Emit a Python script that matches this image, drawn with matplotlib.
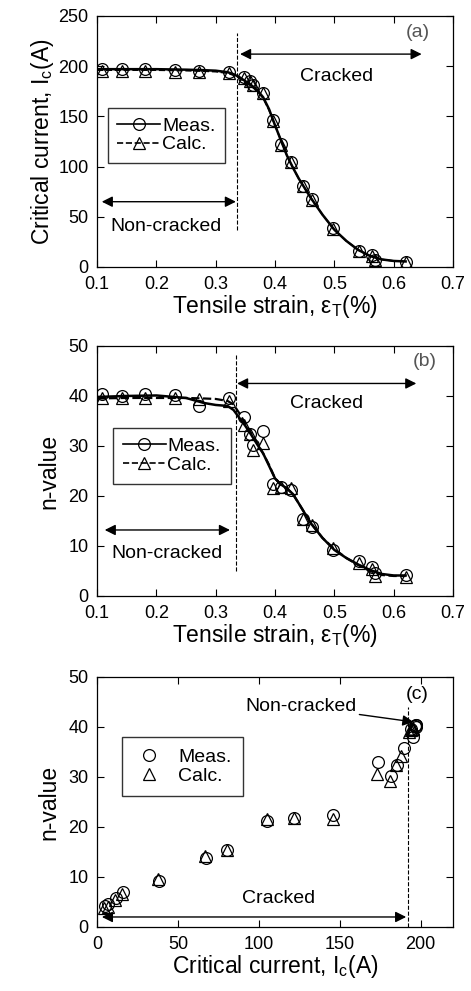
"""
Critical current and n-value versus tensile strain, three stacked panels.
"""
import matplotlib
matplotlib.use('Agg')
from matplotlib import pyplot as plt

plt.rcParams['font.family'] = ['Liberation Sans', 'DejaVu Sans']
plt.rcParams['mathtext.fontset'] = 'custom'
plt.rcParams['mathtext.rm'] = 'Liberation Sans'
plt.rcParams['mathtext.it'] = 'Liberation Sans'

# measured / calculated points (same strains)
strain = [0.108, 0.142, 0.181, 0.232, 0.271, 0.323, 0.347, 0.358, 0.362, 0.379,
          0.397, 0.410, 0.427, 0.447, 0.462, 0.498, 0.542, 0.564, 0.568, 0.620]
ic_meas = [197, 197, 197, 196.5, 195.5, 194, 189.5, 185.5, 181.5, 173.5,
           146, 122, 105, 80.5, 67.5, 38.5, 16, 11.5, 7, 5]
ic_calc = [195.5, 195.5, 195.5, 194.5, 194, 193, 188, 185, 181, 173,
           145.5, 121.5, 105, 80.5, 66.5, 37.5, 15.5, 11, 6.5, 4.5]
n_meas = [40.3, 40.0, 40.4, 40.2, 38.0, 39.5, 35.8, 32.3, 30.1, 33.0,
          22.3, 21.8, 21.2, 15.3, 13.7, 9.1, 7.0, 5.7, 4.5, 4.2]
n_calc = [39.5, 39.5, 39.5, 39.5, 39.3, 39.0, 34.1, 32.3, 29.1, 30.5,
          21.5, 21.8, 21.5, 15.3, 14.1, 9.5, 6.6, 5.3, 4.0, 3.8]

# fitted curves
curve_strain = [0.10, 0.15, 0.20, 0.25, 0.28, 0.30, 0.32, 0.33, 0.34, 0.35,
                0.36, 0.37, 0.38, 0.39, 0.40, 0.41, 0.42, 0.43, 0.44, 0.46,
                0.48, 0.50, 0.52, 0.54, 0.56, 0.58, 0.60, 0.62]
curve_ic_meas = [197, 197, 197, 196.5, 196, 195.5, 194, 192, 189, 185,
                 181, 176, 169, 157, 141, 126, 111, 99, 88, 69,
                 52, 37, 26, 17, 11, 7.5, 6, 5.5]
curve_ic_calc = [196, 196, 196, 195.5, 195, 194.5, 193, 191, 188, 184,
                 180, 175, 168, 156, 141, 126, 111, 99, 88, 69,
                 52, 37, 26, 17, 11, 7.5, 6, 5.5]
curve_n_meas = [39.8, 40.0, 40.1, 39.6, 38.6, 38.2, 38.0, 37.2, 35.6, 34.0,
                32.2, 30.3, 28.5, 26.0, 23.5, 22.3, 21.5, 20.4, 18.5, 14.6,
                11.6, 9.2, 7.6, 6.3, 5.2, 4.4, 4.1, 4.1]
curve_n_calc = [39.5, 39.6, 39.6, 39.6, 39.5, 39.4, 39.0, 38.3, 36.5, 34.5,
                32.5, 30.5, 28.5, 26.2, 23.5, 22.2, 21.5, 20.4, 18.5, 14.6,
                11.6, 9.4, 7.6, 6.2, 5.0, 4.2, 4.0, 4.0]

FS_TICK = 13
FS_TXT = 14
FS_LAB = 16.5
MS = 8.5

fig = plt.figure(figsize=(4.71, 9.91), dpi=100)
ax_a = fig.add_axes([0.206, 0.7306, 0.756, 0.2533])
ax_b = fig.add_axes([0.206, 0.3986, 0.756, 0.2523])
ax_c = fig.add_axes([0.206, 0.0646, 0.756, 0.2523])


def style(ax):
    ax.tick_params(direction='in', top=True, right=True, labelsize=FS_TICK,
                   length=5, width=0.8)
    ax.tick_params(axis='x', pad=6.5)
    ax.tick_params(axis='y', pad=6)
    for s in ax.spines.values():
        s.set_linewidth(0.9)


def arrow(ax, x0, x1, y):
    ax.annotate('', xy=(x0, y), xytext=(x1, y),
                arrowprops=dict(arrowstyle='<|-|>', color='black', lw=1.0,
                                mutation_scale=16, shrinkA=0, shrinkB=0))


leg_kw = dict(loc='upper left', fontsize=FS_TXT, frameon=True, fancybox=False,
              edgecolor='black', borderaxespad=0, labelspacing=0.05)

# (a)
ax = ax_a
ax.plot(curve_strain, curve_ic_meas, '-', color='black', lw=1.8)
ax.plot(curve_strain, curve_ic_calc, '--', color='black', lw=1.2)
ax.plot(strain, ic_meas, 'o', mfc='none', mec='black', ms=MS, mew=0.9)
ax.plot(strain, ic_calc, '^', mfc='none', mec='black', ms=MS, mew=0.9)
ax.plot([], [], '-o', color='black', mfc='none', ms=MS, mew=0.9, lw=1.2, label='Meas.')
ax.plot([], [], '--^', color='black', mfc='none', ms=MS, mew=0.9, lw=1.2, label='Calc.')
ax.plot([0.336, 0.336], [37, 233], '--', color='black', lw=0.8)
arrow(ax, 0.341, 0.647, 212)
arrow(ax, 0.108, 0.334, 65)
ax.text(0.503, 190, 'Cracked', ha='center', va='center', fontsize=FS_TXT)
ax.text(0.216, 40, 'Non-cracked', ha='center', va='center', fontsize=FS_TXT)
ax.text(0.641, 234, '(a)', ha='center', va='center', fontsize=FS_TXT, color='#555555')
ax.set_xlim(0.1, 0.7)
ax.set_ylim(0, 250)
ax.set_xticks([0.1, 0.2, 0.3, 0.4, 0.5, 0.6, 0.7])
ax.set_yticks([0, 50, 100, 150, 200, 250])
ax.set_xlabel('Tensile strain, ε$_\\mathregular{T}$(%)', fontsize=FS_LAB, labelpad=0)
ax.set_ylabel('Critical current, I$_\\mathregular{c}$(A)', fontsize=FS_LAB, labelpad=2)
ax.legend(bbox_to_anchor=(0.03, 0.635), handlelength=2.2, handletextpad=0.1,
          borderpad=0.5, **leg_kw)
style(ax)

# (b)
ax = ax_b
ax.plot(curve_strain, curve_n_meas, '-', color='black', lw=1.8)
ax.plot(curve_strain, curve_n_calc, '--', color='black', lw=1.6)
ax.plot(strain, n_meas, 'o', mfc='none', mec='black', ms=MS, mew=0.9)
ax.plot(strain, n_calc, '^', mfc='none', mec='black', ms=MS, mew=0.9)
ax.plot([], [], '-o', color='black', mfc='none', ms=MS, mew=0.9, lw=1.2, label='Meas.')
ax.plot([], [], '--^', color='black', mfc='none', ms=MS, mew=0.9, lw=1.2, label='Calc.')
ax.plot([0.334, 0.334], [4.9, 48.2], '--', color='black', lw=0.8)
arrow(ax, 0.336, 0.638, 42.5)
arrow(ax, 0.113, 0.324, 13.2)
ax.text(0.486, 38.4, 'Cracked', ha='center', va='center', fontsize=FS_TXT)
ax.text(0.218, 8.5, 'Non-cracked', ha='center', va='center', fontsize=FS_TXT)
ax.text(0.653, 46.9, '(b)', ha='center', va='center', fontsize=FS_TXT, color='#555555')
ax.set_xlim(0.1, 0.7)
ax.set_ylim(0, 50)
ax.set_xticks([0.1, 0.2, 0.3, 0.4, 0.5, 0.6, 0.7])
ax.set_yticks([0, 10, 20, 30, 40, 50])
ax.set_xlabel('Tensile strain, ε$_\\mathregular{T}$(%)', fontsize=FS_LAB, labelpad=0)
ax.set_ylabel('n-value', fontsize=FS_LAB, labelpad=6)
ax.legend(bbox_to_anchor=(0.045, 0.672), handlelength=2.2, handletextpad=0.1,
          borderpad=0.5, **leg_kw)
style(ax)

# (c)
ax = ax_c
ax.plot(ic_meas, n_meas, 'o', mfc='none', mec='black', ms=MS, mew=0.9, label='Meas.')
ax.plot(ic_calc, n_calc, '^', mfc='none', mec='black', ms=MS, mew=0.9, label='Calc.')
ax.plot([192.4, 192.4], [0, 44], '--', color='black', lw=0.8)
arrow(ax, 3, 191, 2.0)
ax.text(112, 5.6, 'Cracked', ha='center', va='center', fontsize=FS_TXT)
ax.annotate('Non-cracked', xy=(195.5, 41.0), xytext=(126, 44.1),
            ha='center', va='center', fontsize=FS_TXT,
            arrowprops=dict(arrowstyle='-|>', color='black', lw=1.0,
                            mutation_scale=16, shrinkA=0, shrinkB=0))
ax.text(198, 46.5, '(c)', ha='center', va='center', fontsize=FS_TXT)
ax.set_xlim(0, 220)
ax.set_ylim(0, 50)
ax.set_xticks([0, 50, 100, 150, 200])
ax.set_yticks([0, 10, 20, 30, 40, 50])
ax.set_xlabel('Critical current, I$_\\mathregular{c}$(A)', fontsize=FS_LAB, labelpad=0)
ax.set_ylabel('n-value', fontsize=FS_LAB, labelpad=6)
ax.legend(bbox_to_anchor=(0.07, 0.76), handlelength=1.6, handletextpad=0.7,
          borderpad=0.6, **leg_kw)
style(ax)

fig.savefig('out.png', dpi=100)
